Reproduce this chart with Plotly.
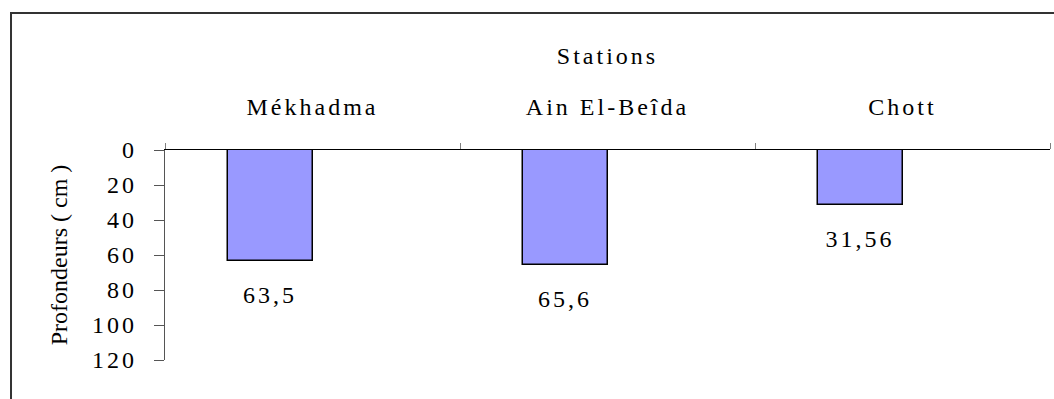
import plotly.graph_objects as go

# Depth measured at each station (cm)
stations = ["Mékhadma", "Ain El-Beîda", "Chott"]
depths = [63.5, 65.6, 31.56]
depth_labels = ["63,5", "65,6", "31,56"]
y_ticks = [0, 20, 40, 60, 80, 100, 120]

FONT = "Liberation Serif"
SIZE = 24
BAR_W = 0.2857  # bar occupies the left half of its category slot

fig = go.Figure()
fig.add_bar(
    x=stations,
    y=depths,
    width=BAR_W,
    offset=-BAR_W,
    marker=dict(color="#9999FF", line=dict(color="black", width=1.5)),
    showlegend=False,
    hoverinfo="skip",
)

# value labels under each bar
for i, (v, lab) in enumerate(zip(depths, depth_labels)):
    fig.add_annotation(
        x=i - BAR_W / 2, y=v, xref="x", yref="y",
        text=lab, showarrow=False, yanchor="middle", yshift=-34,
        font=dict(family=FONT, size=SIZE, color="black"),
    )

# outer frame of the chart
fig.add_shape(
    type="rect", xref="paper", yref="paper",
    x0=-0.174, x1=1.02, y0=-0.25, y1=1.652,
    line=dict(color="#333333", width=2), fillcolor="rgba(0,0,0,0)",
    layer="below",
)

fig.update_layout(
    width=1054, height=399,
    margin=dict(l=165, r=4, t=150, b=39),
    paper_bgcolor="white", plot_bgcolor="white",
    font=dict(family=FONT, size=SIZE, color="black"),
    bargap=0,
    xaxis=dict(
        type="category", side="top", range=[-0.5, 2.5],
        tickson="boundaries", ticks="outside", ticklen=6, tickcolor="#808080",
        showline=True, linecolor="black", linewidth=1.2,
        showgrid=False, zeroline=False,
        ticklabelstandoff=24,
        title=dict(text="Stations", standoff=22, font=dict(size=SIZE)),
    ),
    yaxis=dict(
        range=[120, 0], tickvals=y_ticks,
        ticks="outside", ticklen=10, tickcolor="#555555",
        showline=True, linecolor="#555555", linewidth=1.2,
        showgrid=False, zeroline=False,
        ticklabelstandoff=12,
        title=dict(text="Profondeurs ( cm )", standoff=26, font=dict(size=SIZE)),
    ),
)

# widen the letter spacing of the labels (the vertical axis title keeps normal spacing)
spacing_js = (
    "document.querySelectorAll('.main-svg text').forEach(function(t){"
    "if(!t.classList.contains('ytitle')){t.style.letterSpacing='3px';}});"
)

fig.write_html("out.html", post_script=spacing_js)
